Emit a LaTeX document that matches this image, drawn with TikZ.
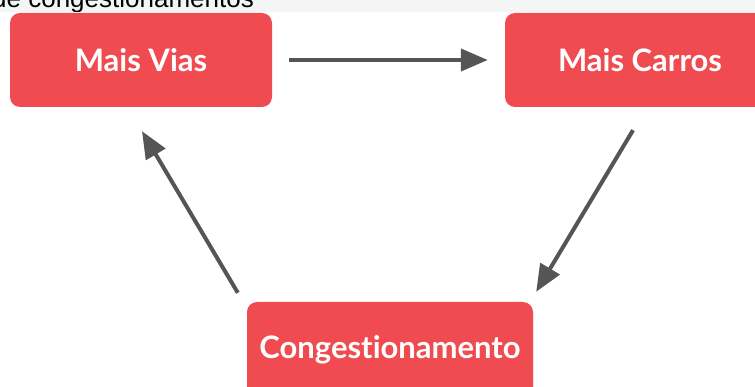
\documentclass[tikz,border=0pt]{standalone}
\usepackage{fontspec}
\setmainfont{Lato}[Ligatures=NoCommon]
\newfontfamily\captionfont{Liberation Sans}
\usepackage{xcolor}
\usetikzlibrary{arrows.meta,positioning}
\definecolor{boxred}{HTML}{EF4B51}
\definecolor{arrowgray}{HTML}{555555}
\definecolor{stripgray}{HTML}{F4F6F6}

\begin{document}
\begin{tikzpicture}[x=1pt,y=-1pt,
                    stepbox/.style={rounded corners=10pt, fill=boxred, text=white,
                                    font=\fontsize{31}{36}\selectfont\bfseries,
                                    inner sep=0pt, minimum height=94pt},
                    loop/.style={line width=4pt, arrowgray,
                                 -{Triangle[length=27pt,width=22pt]}},
                   ]

\useasboundingbox (0,0) rectangle (755,387);

% strip with the cut caption
\fill[stripgray] (0,0) rectangle (755,12);
\begin{scope}
\clip (0,0) rectangle (755,12);
\node[anchor=base west, inner sep=0pt, font=\captionfont\fontsize{26}{30}\selectfont]
     (caption) at (-8,7.5) {de congestionamentos};
\end{scope}

\node[stepbox, minimum width=262pt] (vias)   at (141,60)  {Mais Vias};
\node[stepbox, minimum width=270pt] (carros) at (640,60)  {Mais Carros};
\node[stepbox, minimum width=286pt, minimum height=96pt] (cong) at (390,350) {Congestionamento};

\draw[loop, shorten <=17pt, shorten >=17pt] (vias.east) -- (carros.west);
\draw[loop] ([xshift=-7pt,yshift=-23pt]carros.south) -- ([xshift=3pt,yshift=10pt]cong.north east);
\draw[loop] ([xshift=-9pt,yshift=9pt]cong.north west) -- ([xshift=1pt,yshift=-24pt]vias.south);

\end{tikzpicture}
\end{document}
